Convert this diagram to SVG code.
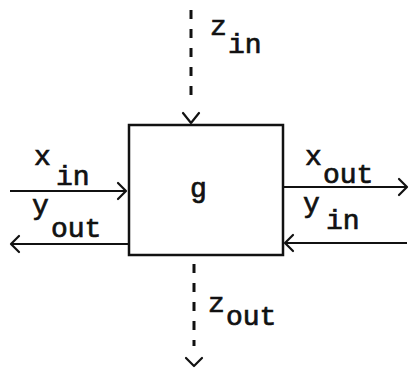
<svg xmlns="http://www.w3.org/2000/svg" width="411" height="371" viewBox="0 0 411 371">
<defs>
<style>
.t{font-family:"Liberation Mono","DejaVu Sans Mono",monospace;font-size:28px;fill:#111;stroke:#111;stroke-width:0.7}
.ln{stroke:#111;stroke-width:2;fill:none}
.dot{stroke:#111;stroke-width:3;fill:none;stroke-dasharray:9 10}
.ah{stroke:#111;stroke-width:2.2;fill:none;stroke-linecap:round;stroke-linejoin:round}
</style>
</defs>
<rect width="411" height="371" fill="#fff"/>
<g id="g">
<rect x="129" y="125" width="154" height="130" fill="#fff" stroke="#111" stroke-width="2.5"/>
<text class="t" x="190" y="197">g</text>
</g>
<g id="connectors">
<line class="dot" x1="191" y1="10" x2="191" y2="104"/>
<path class="ah" d="M183,113 L191,123 L199,113"/>
<line class="ln" x1="10" y1="191" x2="126" y2="191"/>
<path class="ah" d="M118,183 L126,191 L118,199"/>
<line class="ln" x1="11" y1="244" x2="129" y2="244"/>
<path class="ah" d="M19,236 L11,244 L19,252"/>
<line class="ln" x1="284" y1="187" x2="407" y2="187"/>
<path class="ah" d="M399,179 L407,187 L399,195"/>
<line class="ln" x1="285" y1="243" x2="407" y2="243"/>
<path class="ah" d="M293,235 L285,243 L293,251"/>
<line class="dot" x1="194" y1="264" x2="194" y2="346"/>
<path class="ah" d="M186,358 L194,366 L202,358"/>
</g>
<g id="labels">
<text class="t" x="210" y="35">z</text><text class="t" x="228" y="53">in</text>
<text class="t" x="34" y="165">x</text><text class="t" x="56" y="185">in</text>
<text class="t" x="32" y="214">y</text><text class="t" x="51" y="237">out</text>
<text class="t" x="305" y="165">x</text><text class="t" x="323" y="183">out</text>
<text class="t" x="303" y="212">y</text><text class="t" x="326" y="229">in</text>
<text class="t" x="208" y="312">z</text><text class="t" x="226" y="325">out</text>
</g>
</svg>
